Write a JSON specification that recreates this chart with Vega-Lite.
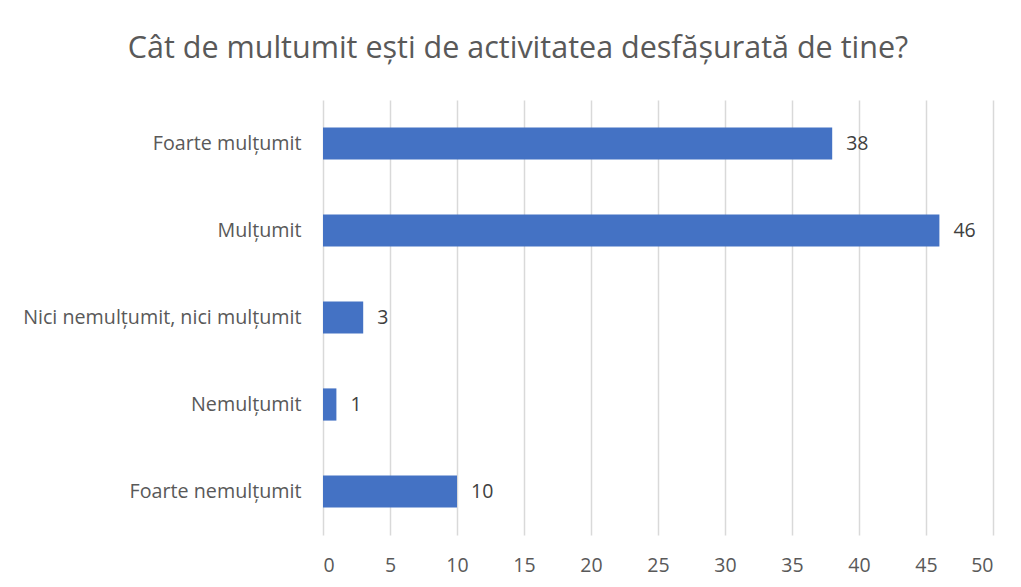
{
  "$schema": "https://vega.github.io/schema/vega-lite/v6.json",
  "width": 670,
  "height": 435,
  "autosize": {"type": "none"},
  "padding": {"left": 323, "top": 100, "right": 28, "bottom": 52},
  "background": "white",
  "title": {
    "text": "Cât de multumit ești de activitatea desfășurată de tine?",
    "anchor": "middle",
    "dx": -140,
    "offset": 36,
    "fontSize": 30.5,
    "font": "Open Sans",
    "fontWeight": "normal",
    "color": "#595959"
  },
  "data": {
    "values": [
      {"raspuns": "Foarte mulțumit", "numar": 38},
      {"raspuns": "Mulțumit", "numar": 46},
      {"raspuns": "Nici nemulțumit, nici mulțumit", "numar": 3},
      {"raspuns": "Nemulțumit", "numar": 1},
      {"raspuns": "Foarte nemulțumit", "numar": 10}
    ]
  },
  "encoding": {
    "y": {
      "field": "raspuns",
      "type": "nominal",
      "sort": null,
      "scale": {"paddingInner": 0.63, "paddingOuter": 0.315},
      "axis": {
        "title": null,
        "domain": false,
        "ticks": false,
        "labelPadding": 22,
        "labelFont": "Open Sans",
        "labelFontSize": 19.7,
        "labelColor": "#595959",
        "labelLimit": 400
      }
    },
    "x": {
      "field": "numar",
      "type": "quantitative",
      "scale": {"domain": [0, 50], "nice": false},
      "axis": {
        "title": null,
        "values": [0, 5, 10, 15, 20, 25, 30, 35, 40, 45, 50],
        "domain": false,
        "ticks": false,
        "grid": true,
        "gridColor": "#d9d9d9",
        "gridWidth": 1.5,
        "labelPadding": 21,
        "labelFont": "Open Sans",
        "labelFontSize": 19.5,
        "labelColor": "#595959"
      }
    }
  },
  "layer": [
    {"mark": {"type": "bar", "color": "#4472C4"}},
    {
      "mark": {"type": "text", "align": "left", "baseline": "middle", "dx": 14, "font": "Open Sans", "fontSize": 19.5, "color": "#404040"},
      "encoding": {"text": {"field": "numar", "type": "quantitative"}}
    }
  ],
  "config": {"view": {"stroke": null}}
}
